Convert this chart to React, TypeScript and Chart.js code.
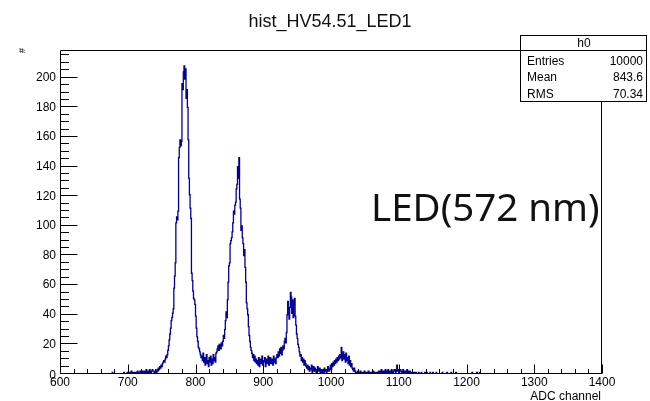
import React, { useEffect, useRef } from 'react';
import { Chart, registerables } from 'chart.js';

Chart.register(...registerables);

const TITLE = 'hist_HV54.51_LED1';
const X_TITLE = 'ADC channel';
const Y_TITLE = '#';
const ANNOTATION = 'LED(572 nm)';
const X_MIN = 600;
const X_MAX = 1400;
const Y_MAX = 218.7;
const FIRST_CHANNEL = 670;

// counts per 1-channel bin, starting at FIRST_CHANNEL (other bins are empty)
const counts = [
  0, 0, 0, 0, 0, 0, 0, 0, 1, 0, // 670
  0, 0, 0, 0, 0, 0, 0, 0, 0, 0, // 680
  0, 0, 0, 0, 0, 1, 0, 0, 0, 0, // 690
  1, 0, 0, 1, 0, 0, 2, 0, 1, 0, // 700
  1, 0, 1, 1, 0, 2, 1, 0, 1, 2, // 710
  1, 0, 2, 1, 1, 2, 0, 1, 3, 1, // 720
  2, 1, 1, 3, 2, 1, 2, 3, 2, 2, // 730
  1, 0, 2, 1, 3, 2, 4, 3, 5, 4, // 740
  6, 5, 7, 8, 9, 8, 10, 12, 11, 13, // 750
  16, 19, 23, 27, 31, 36, 38, 41, 44, 58, // 760
  66, 75, 102, 106, 104, 110, 146, 153, 158, 154, // 770
  157, 196, 192, 204, 208, 199, 206, 186, 192, 180, // 780
  158, 132, 121, 112, 105, 68, 63, 56, 51, 50, // 790
  47, 39, 31, 25, 22, 18, 17, 15, 13, 11, // 800
  12, 9, 14, 8, 11, 6, 10, 13, 7, 9, // 810
  5, 11, 8, 12, 6, 10, 7, 13, 9, 11, // 820
  8, 14, 15, 17, 19, 16, 20, 18, 17, 21, // 830
  19, 22, 26, 24, 30, 36, 42, 38, 50, 62, // 840
  73, 75, 88, 90, 92, 96, 102, 110, 108, 114, // 850
  116, 125, 128, 140, 132, 146, 118, 112, 97, 100, // 860
  92, 88, 80, 84, 72, 62, 48, 44, 40, 32, // 870
  26, 22, 18, 16, 14, 11, 13, 9, 12, 8, // 880
  10, 7, 9, 6, 11, 5, 8, 10, 7, 12, // 890
  6, 9, 8, 11, 5, 10, 7, 9, 12, 6, // 900
  8, 11, 7, 10, 9, 6, 12, 8, 10, 7, // 910
  11, 13, 11, 15, 12, 17, 14, 18, 13, 16, // 920
  19, 17, 22, 24, 21, 28, 40, 49, 44, 37, // 930
  45, 55, 52, 41, 50, 38, 47, 51, 39, 33, // 940
  27, 24, 20, 18, 15, 12, 13, 9, 11, 8, // 950
  10, 6, 9, 7, 5, 4, 6, 3, 5, 2, // 960
  4, 3, 6, 1, 3, 5, 2, 4, 3, 1, // 970
  2, 5, 3, 2, 4, 1, 3, 2, 0, 3, // 980
  1, 4, 2, 3, 1, 2, 5, 3, 2, 4, // 990
  6, 3, 7, 5, 8, 6, 9, 7, 10, 8, // 1000
  11, 9, 12, 10, 13, 11, 18, 9, 12, 15, // 1010
  10, 13, 8, 14, 9, 11, 7, 12, 6, 9, // 1020
  5, 7, 4, 3, 2, 4, 2, 1, 1, 0, // 1030
  2, 1, 0, 1, 2, 1, 0, 1, 1, 0, // 1040
  2, 1, 0, 1, 1, 0, 2, 1, 0, 1, // 1050
  1, 0, 1, 2, 0, 1, 1, 0, 1, 0, // 1060
  1, 2, 1, 2, 1, 3, 1, 2, 1, 2, // 1070
  1, 3, 2, 1, 2, 3, 1, 2, 2, 1, // 1080
  3, 2, 1, 2, 3, 2, 1, 3, 6, 2, // 1090
  3, 1, 2, 3, 2, 1, 2, 3, 1, 2, // 1100
  2, 1, 2, 3, 1, 2, 1, 2, 1, 0, // 1110
  1, 0, 0, 1, 0, 0, 1, 0, 0, 0, // 1120
  1, 0, 0, 0, 1, 0, 0, 0, 0, 1, // 1130
  0, 0, 1, 0, 0, 0, 0, 1, 0, 0, // 1140
  0, 1, 0, 0, 0, 0, 1, 0, 0, 0, // 1150
  0, 0, 0, 0, 0, 1, 0, 0, 0, 0, // 1160
  0, 0, 1, 0, 0, 0, 0, 0, 1, 0, // 1170
  0, 0, 0, 0, 0, 1, 0, 0, 0, 0, // 1180
  0, 0, 0, 0, 0, 0, 0, 0, 0, 0, // 1190
  0, 0, 0, 0, 0, 0, 0, 0, 0, 1, // 1200
  0, 0, 0, 0, 0, 0, 1, 0, 0, 0, // 1210
  1, 0, 0, 0, 0, 0, 0, 0, 0, 0, // 1220
];

const xTickValues = [600, 700, 800, 900, 1000, 1100, 1200, 1300, 1400];
const xTickLabels = ['600', '700', '800', '900', '1000', '1100', '1200', '1300', '1400'];
const yTickValues = [0, 20, 40, 60, 80, 100, 120, 140, 160, 180, 200];
const yTickLabels = ['0', '20', '40', '60', '80', '100', '120', '140', '160', '180', '200'];
const X_MINOR_STEP = 20;
const Y_MINOR_STEP = 5;

const statsName = 'h0';
const statsLabels = ['Entries', 'Mean', 'RMS'];
const statsValues = ['10000', '843.6', '70.34'];

const LINE_COLOR = '#000094';
const FONT = '"Liberation Sans", Arial, Helvetica, sans-serif';

function buildPoints() {
  const pts: { x: number; y: number }[] = [];
  for (let ch = X_MIN; ch < X_MAX; ch++) {
    const idx = ch - FIRST_CHANNEL;
    const v = idx >= 0 && idx < counts.length ? counts[idx] : 0;
    pts.push({ x: ch, y: v });
  }
  pts.push({ x: X_MAX, y: 0 });
  return pts;
}

const rootPlugin = {
  id: 'rootDecor',
  afterDraw(chart: any) {
    const ctx = chart.ctx as CanvasRenderingContext2D;
    const a = chart.chartArea;
    const xs = chart.scales.x;
    const ys = chart.scales.y;
    ctx.save();
    ctx.strokeStyle = '#000';
    ctx.lineWidth = 1;
    // frame
    const L = a.left + 0.5, R = a.right - 0.5, T = a.top + 0.5, B = a.bottom - 0.5;
    ctx.beginPath();
    ctx.moveTo(L, T); ctx.lineTo(R, T); ctx.lineTo(R, B); ctx.lineTo(L, B); ctx.closePath();
    ctx.stroke();
    // y ticks
    ctx.beginPath();
    for (let v = 0; v <= Y_MAX; v += Y_MINOR_STEP) {
      const py = Math.round(ys.getPixelForValue(v)) - 0.5;
      const len = v % 20 === 0 ? 17 : 8.5;
      ctx.moveTo(L, py); ctx.lineTo(L + len, py);
    }
    // x ticks
    for (let v = X_MIN; v <= X_MAX; v += X_MINOR_STEP) {
      const px = Math.round(xs.getPixelForValue(v)) + 0.5;
      const len = v % 100 === 0 ? 9 : 4.5;
      ctx.moveTo(px, B); ctx.lineTo(px, B - len);
    }
    ctx.stroke();
    // labels
    ctx.fillStyle = '#000';
    ctx.font = `12px ${FONT}`;
    ctx.textAlign = 'right';
    ctx.textBaseline = 'middle';
    yTickValues.forEach((v, i) => {
      const y = v === 0 ? ys.getPixelForValue(v) + 2 : ys.getPixelForValue(v);
      ctx.fillText(yTickLabels[i], 56, y);
    });
    ctx.textAlign = 'center';
    xTickValues.forEach((v, i) => {
      ctx.fillText(xTickLabels[i], xs.getPixelForValue(v), 383);
    });
    // axis titles
    ctx.textAlign = 'right';
    ctx.textBaseline = 'alphabetic';
    ctx.fillText(X_TITLE, 601, 400);
    ctx.save();
    ctx.translate(25, 48);
    ctx.rotate(-Math.PI / 2);
    ctx.font = `9px ${FONT}`;
    ctx.textAlign = 'right';
    ctx.fillText(Y_TITLE, 0, 0);
    ctx.restore();
    // title
    ctx.font = `18px ${FONT}`;
    ctx.textAlign = 'center';
    ctx.fillStyle = '#111';
    ctx.fillText(TITLE, 330, 27);
    // stats box
    const bx = 520.5, by = 35.5, bw = 126, bh = 66;
    ctx.fillStyle = '#fff';
    ctx.fillRect(bx, by, bw, bh);
    ctx.strokeRect(bx, by, bw, bh);
    ctx.beginPath();
    ctx.moveTo(bx, 50.5); ctx.lineTo(bx + bw, 50.5);
    ctx.stroke();
    ctx.fillStyle = '#000';
    ctx.font = `12px ${FONT}`;
    ctx.textBaseline = 'middle';
    ctx.textAlign = 'center';
    ctx.fillText(statsName, 584, 44);
    statsLabels.forEach((lab, i) => {
      const y = 61.5 + i * 16.5;
      ctx.textAlign = 'left';
      ctx.fillText(lab, 527, y);
      ctx.textAlign = 'right';
      ctx.fillText(statsValues[i], 643, y);
    });
    // annotation
    ctx.font = `38.5px "Noto Sans", sans-serif`;
    ctx.textAlign = 'left';
    ctx.textBaseline = 'alphabetic';
    ctx.fillStyle = '#111';
    ctx.fillText(ANNOTATION, 371, 221);
    ctx.restore();
  },
};

export default function App() {
  const ref = useRef<HTMLCanvasElement | null>(null);
  useEffect(() => {
    document.body.style.margin = '0';
    const canvas = ref.current;
    if (!canvas) return;
    const chart = new Chart(canvas, {
      type: 'line',
      data: {
        datasets: [
          {
            data: buildPoints(),
            borderColor: LINE_COLOR,
            borderWidth: 1.3,
            stepped: 'after',
            pointRadius: 0,
            fill: false,
            tension: 0,
          },
        ],
      },
      options: {
        responsive: false,
        animation: false,
        devicePixelRatio: 1,
        layout: { padding: { top: 50, right: 48, left: 0, bottom: 0 } },
        plugins: { legend: { display: false }, title: { display: false }, tooltip: { enabled: false } },
        scales: {
          x: {
            type: 'linear',
            min: X_MIN,
            max: X_MAX,
            grid: { display: false, drawTicks: false },
            border: { display: false },
            ticks: { display: false },
            afterFit: (s: any) => { s.height = 27; },
          },
          y: {
            type: 'linear',
            min: 0,
            max: Y_MAX,
            grid: { display: false, drawTicks: false },
            border: { display: false },
            ticks: { display: false },
            afterFit: (s: any) => { s.width = 60; },
          },
        },
      },
      plugins: [rootPlugin],
    });
    return () => chart.destroy();
  }, []);
  return (
    <div style={{ position: 'absolute', left: 0, top: 0, width: 650, height: 401, background: '#fff' }}>
      <canvas ref={ref} width={650} height={401} style={{ display: 'block' }} />
    </div>
  );
}
